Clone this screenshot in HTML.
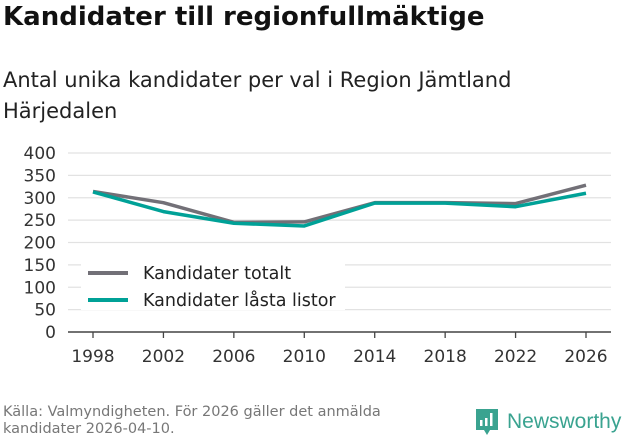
<!DOCTYPE html>
<html><head><meta charset="utf-8"><style>
body{margin:0;background:#fff;font-family:"DejaVu Sans","Liberation Sans",sans-serif;}
#wrap{position:relative;width:631px;height:439px;overflow:hidden;}
h1{position:absolute;left:3px;top:2px;margin:0;font-size:26px;font-weight:bold;color:#111;}
.sub{position:absolute;left:3px;top:65px;font-size:21px;color:#222;line-height:31px;}
.src{position:absolute;left:3px;top:404px;font-size:14.5px;color:#777;line-height:17px;}
.logo{position:absolute;left:474px;top:407px;display:flex;align-items:center;}
</style></head><body><div id="wrap">
<h1>Kandidater till regionfullmäktige</h1>
<div class="sub">Antal unika kandidater per val i Region Jämtland<br>Härjedalen</div>
<svg id="chart" width="631" height="439" style="position:absolute;left:0;top:0"></svg>
<div class="src">Källa: Valmyndigheten. För 2026 gäller det anmälda<br>kandidater 2026-04-10.</div>
<div class="logo">
<svg width="26" height="30"><path d="M2 2h22v21h-8l-3 5-3-5H2z" fill="#3aa390"/><rect x="6" y="13" width="2.5" height="6" fill="#fff"/><rect x="11" y="11" width="2.5" height="8" fill="#fff"/><rect x="16" y="6" width="2.5" height="13" fill="#fff"/></svg>
<span style="color:#3aa390;font-size:21px;margin-left:7px;font-family:'Liberation Sans',sans-serif">Newsworthy</span></div>
</div>
<script>
const years=[1998,2002,2006,2010,2014,2018,2022,2026];
const totalt=[314,289,245,246,289,289,287,328];
const lasta=[313,269,243,237,288,288,280,310];
const yTicks=[0,50,100,150,200,250,300,350,400];
const NS="http://www.w3.org/2000/svg";
const svg=document.getElementById('chart');
const x=v=>93+(v-1998)/(2026-1998)*(586-93);
const y=v=>332-v/400*179;
function mk(t,a){const e=document.createElementNS(NS,t);for(const k in a)e.setAttribute(k,a[k]);svg.appendChild(e);return e;}
yTicks.forEach(t=>{
 if(t>0){const g=mk('line',{x1:68,x2:611,y1:y(t),y2:y(t),stroke:'#e2e2e2','stroke-width':1.3});
 
 }
 const l=mk('text',{x:56,y:y(t)+6,'text-anchor':'end','font-size':17,fill:'#333'});l.textContent=t;
 
 
});
const ax=mk('line',{x1:68,x2:611,y1:332,y2:332,stroke:'#444','stroke-width':1.5});


years.forEach(yr=>{
 const tk=mk('line',{x1:x(yr),x2:x(yr),y1:332,y2:338,stroke:'#444','stroke-width':1.3});
 
 
 const l=mk('text',{x:x(yr),y:362,'text-anchor':'middle','font-size':17,fill:'#333'});l.textContent=yr;
 
 
});
function line(vals,color,name){
 const p=mk('polyline',{points:vals.map((v,i)=>x(years[i])+','+y(v)).join(' '),fill:'none',stroke:color,'stroke-width':3.5,'stroke-linejoin':'round'});
 
 
}
line(totalt,'#727077','line-kandidater-totalt');
line(lasta,'#00a197','line-kandidater-lasta-listor');
const bg=mk('rect',{x:81,y:263,width:264,height:47,fill:'#fff'});


[['Kandidater totalt','#727077',274],['Kandidater låsta listor','#00a197',301]].forEach(([t,c,yy])=>{
 const s=mk('line',{x1:88,x2:128,y1:yy-1,y2:yy-1,stroke:c,'stroke-width':4});
 
 
 const l=mk('text',{x:143,y:yy+5,'font-size':17.5,fill:'#222'});l.textContent=t;
 
 
});
</script></body></html>
